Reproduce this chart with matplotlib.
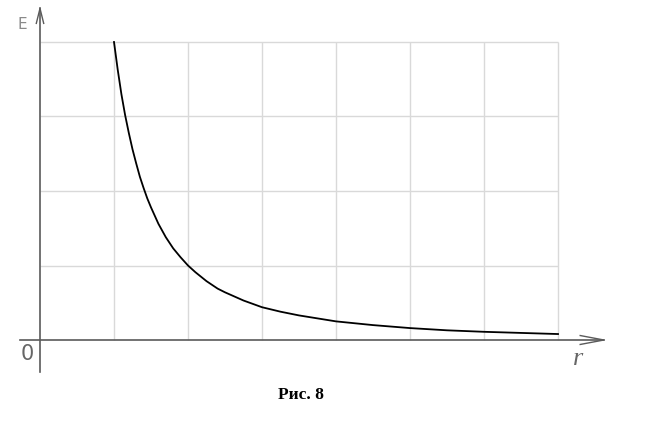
import matplotlib
matplotlib.use("Agg")
import matplotlib.pyplot as plt

# values (r in grid cells, E in grid cells)
r_vals = [1.0, 1.05, 1.1, 1.15, 1.2, 1.25, 1.3, 1.35, 1.4, 1.45, 1.5, 1.6,
          1.7, 1.8, 1.9, 2.0, 2.1, 2.25, 2.4, 2.5, 2.75, 3.0, 3.25, 3.5,
          4.0, 4.5, 5.0, 5.5, 6.0, 6.5, 7.0]
e_vals = [4.0, 3.63, 3.3, 3.02, 2.78, 2.56, 2.37, 2.19, 2.04, 1.9, 1.78, 1.56,
          1.38, 1.23, 1.11, 1.0, 0.91, 0.79, 0.69, 0.64, 0.53, 0.44, 0.38, 0.33,
          0.25, 0.2, 0.16, 0.13, 0.11, 0.095, 0.08]
grid_x = [1, 2, 3, 4, 5, 6, 7]
grid_y = [1, 2, 3, 4]

fig = plt.figure(figsize=(6.53, 4.33), dpi=100)
ax = fig.add_axes([0, 0, 1, 1])
ax.set_xlim(-40 / 74, 613 / 74)
ax.set_ylim(-93 / 74.5, 340 / 74.5)
ax.axis("off")

grid_c = "#d9d9d9"
axis_c = "#5a5a5a"

# grid
ax.vlines(grid_x, 0, 4, color=grid_c, lw=1)
ax.hlines(grid_y, 0, 7, color=grid_c, lw=1)

# axes
ax.plot([0, 0], [-0.43, 4.45], color=axis_c, lw=1.2)
ax.plot([-0.27, 7.62], [0, 0], color=axis_c, lw=1.2)
# arrow heads
ax.plot([-0.05, 0, 0.05], [4.25, 4.45, 4.25], color=axis_c, lw=1)
ax.plot([7.3, 7.62, 7.3], [0.06, 0, -0.06], color=axis_c, lw=1)

# curve
ax.plot(r_vals, e_vals, color="black", lw=1.3)

# labels
ax.text(-0.24, 4.24, "E", color="#8a8a8a", fontsize=11, ha="center", va="center")
ax.text(-0.17, -0.19, "0", color="#666666", fontsize=15, ha="center", va="center")
ax.text(7.27, -0.25, "r", color="#666666", fontsize=19, style="italic",
        family="Liberation Serif", ha="center", va="center")
ax.text(3.53, -0.74, "Рис. 8", color="black", fontsize=12.5, weight="bold",
        family="Liberation Serif", ha="center", va="center")

fig.savefig("out.png", dpi=100)
